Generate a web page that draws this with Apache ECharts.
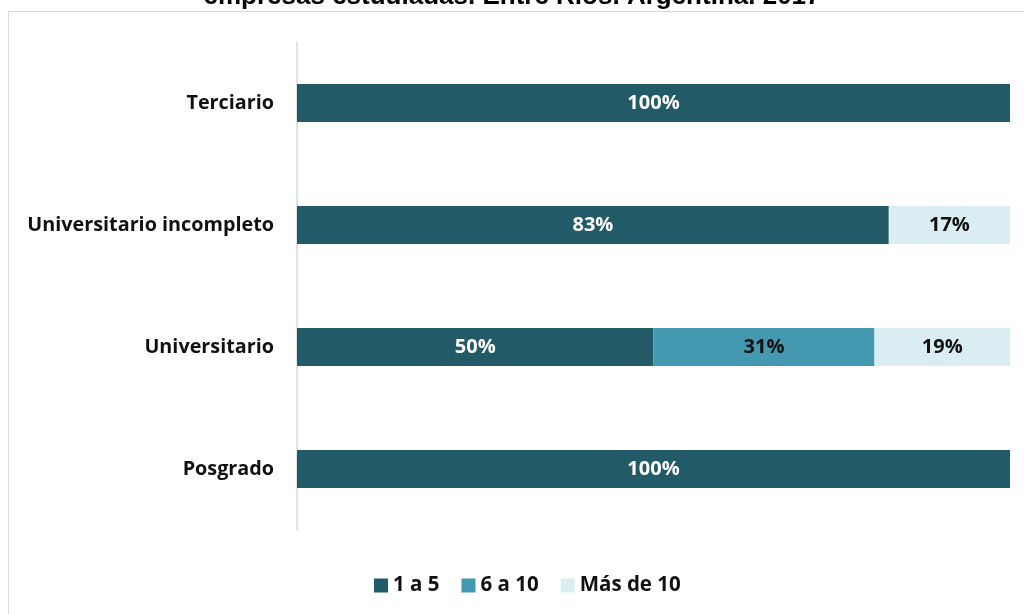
<!DOCTYPE html>
<html>
<head>
<meta charset="utf-8">
<script src="https://cdn.jsdelivr.net/npm/echarts@6/dist/echarts.min.js"></script>
<style>
  html, body { margin: 0; padding: 0; background: #fff; }
  #chart { width: 1024px; height: 614px; }
</style>
</head>
<body>
<div id="chart"></div>
<script>
// categories from bottom to top (category axis starts at the bottom)
const categories = ["Posgrado", "Universitario", "Universitario incompleto", "Terciario"];
const seriesNames = ["1 a 5", "6 a 10", "Más de 10"];
const valores1a5 = [100, 50, 83, 100];
const valores6a10 = [0, 31, 0, 0];
const valoresMas10 = [0, 19, 17, 0];
const tituloTexto = "empresas estudiadas. Entre Ríos. Argentina. 2017";

const colores = ["#235a67", "#4499b0", "#daedf3"];
const coloresTexto = ["#ffffff", "#111111", "#111111"];
const datos = [valores1a5, valores6a10, valoresMas10];

const chart = echarts.init(document.getElementById("chart"));

const option = {
  backgroundColor: "#ffffff",
  animation: false,
  title: {
    text: tituloTexto,
    left: "center",
    top: -21,
    textStyle: {
      fontFamily: "Liberation Sans",
      fontWeight: "bold",
      fontSize: 26,
      color: "#000"
    }
  },
  graphic: [
    {
      type: "rect",
      z: -1,
      shape: { x: 8.5, y: 11.5, width: 1100, height: 700 },
      style: { fill: "none", stroke: "#d9d9d9", lineWidth: 1 }
    }
  ],
  grid: {
    left: 297,
    right: 14,
    top: 42,
    bottom: 84
  },
  legend: {
    left: 369,
    top: 570,
    itemWidth: 14,
    itemHeight: 14,
    itemGap: 22,
    icon: "rect",
    textStyle: {
      fontFamily: "Open Sans",
      fontWeight: "bold",
      fontSize: 20.5,
      color: "#111"
    },
    data: seriesNames
  },
  xAxis: {
    type: "value",
    min: 0,
    max: 100,
    show: false
  },
  yAxis: {
    type: "category",
    data: categories,
    axisLine: { show: true, lineStyle: { color: "#d9d9d9", width: 1.5 } },
    axisTick: { show: false },
    axisLabel: {
      margin: 23,
      fontFamily: "Open Sans",
      fontWeight: "bold",
      fontSize: 19.8,
      color: "#111"
    }
  },
  series: seriesNames.map((nombre, i) => ({
    name: nombre,
    type: "bar",
    stack: "total",
    barWidth: "31%",
    itemStyle: { color: colores[i] },
    label: {
      show: true,
      position: "inside",
      color: coloresTexto[i],
      fontFamily: "Open Sans",
      fontWeight: "bold",
      fontSize: 20,
      formatter: p => (p.value > 0 ? p.value + "%" : "")
    },
    data: datos[i]
  }))
};

chart.setOption(option);
</script>
</body>
</html>
